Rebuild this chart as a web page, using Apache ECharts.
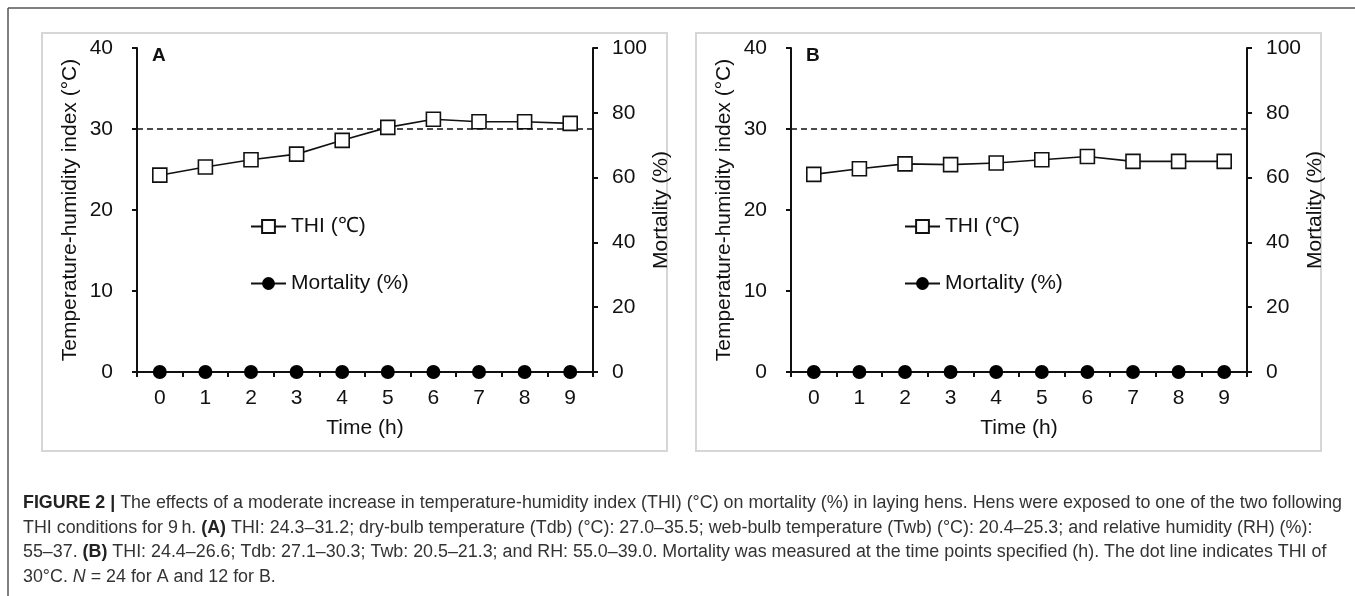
<!DOCTYPE html>
<html>
<head>
<meta charset="utf-8">
<script src="https://cdn.jsdelivr.net/npm/echarts@6/dist/echarts.min.js"></script>
<style>
html, body { margin: 0; padding: 0; background: #fff; }
#main { width: 1355px; height: 596px; }
</style>
</head>
<body>
<div id="main"></div>
<script>
// data
var hours = ['0', '1', '2', '3', '4', '5', '6', '7', '8', '9'];
var thiA = [24.3, 25.3, 26.2, 26.9, 28.6, 30.2, 31.2, 30.9, 30.9, 30.7];
var mortA = [0, 0, 0, 0, 0, 0, 0, 0, 0, 0];
var thiB = [24.4, 25.1, 25.7, 25.6, 25.8, 26.2, 26.6, 26.0, 26.0, 26.0];
var mortB = [0, 0, 0, 0, 0, 0, 0, 0, 0, 0];
var thiTicks = [0, 10, 20, 30, 40];
var mortTicks = [0, 20, 40, 60, 80, 100];
var thiLimit = 30;

var FONT = '"Liberation Sans", Arial, sans-serif';
var INK = '#111';

var captionLines = [
    '{b|FIGURE 2 |} The effects of a moderate increase in temperature-humidity index (THI) (°C) on mortality (%) in laying hens. Hens were exposed to one of the two following',
    'THI conditions for 9\u2009h. {b|(A)} THI: 24.3–31.2; dry-bulb temperature (Tdb) (°C): 27.0–35.5; web-bulb temperature (Twb) (°C): 20.4–25.3; and relative humidity (RH) (%):',
    '55–37. {b|(B)} THI: 24.4–26.6; Tdb: 27.1–30.3; Twb: 20.5–21.3; and RH: 55.0–39.0. Mortality was measured at the time points specified (h). The dot line indicates THI of',
    '30°C. {i|N} = 24 for A and 12 for B.'
];

// fit caption size so that the first line spans the width of the figure
var ctx = document.createElement('canvas').getContext('2d');
ctx.font = 'bold 100px ' + FONT;
var wBold = ctx.measureText('FIGURE 2 |').width;
ctx.font = '100px ' + FONT;
var wRest = ctx.measureText(' The effects of a moderate increase in temperature-humidity index (THI) (°C) on mortality (%) in laying hens. Hens were exposed to one of the two following').width;
var capSize = 100 * 1319 / (wBold + wRest);

var myChart = echarts.init(document.getElementById('main'));

var grids = [];
var xAxes = [];
var yAxes = [];
var series = [];
var legends = [];
var graphics = [];

// outer frame (only top and left edges fall inside the picture)
graphics.push({ type: 'line', shape: { x1: 8, y1: 8, x2: 1355, y2: 8 }, style: { stroke: '#555', lineWidth: 1.5 } });
graphics.push({ type: 'line', shape: { x1: 8, y1: 8, x2: 8, y2: 596 }, style: { stroke: '#555', lineWidth: 1.5 } });

function addPanel(i, boxLeft, letter, thi, mort) {
    var gLeft = boxLeft + 95;
    grids.push({ left: gLeft, top: 48, width: 456, height: 324, outerBoundsMode: 'none' });

    graphics.push({
        type: 'rect',
        shape: { x: boxLeft, y: 33, width: 625, height: 418 },
        style: { fill: 'none', stroke: '#d6d6d6', lineWidth: 2 },
        z: -1
    });
    graphics.push({
        type: 'text', x: gLeft + 15, y: 56,
        style: { text: letter, font: 'bold 19px ' + FONT, fill: INK, verticalAlign: 'middle' }
    });

    var axisCommon = {
        gridIndex: i,
        axisLine: { show: true, lineStyle: { color: INK, width: 2 } },
        axisTick: { show: true, length: 5, lineStyle: { color: INK, width: 2 } },
        splitLine: { show: false },
        nameTextStyle: { fontSize: 21, fontFamily: FONT, color: INK }
    };

    xAxes.push(Object.assign({}, axisCommon, {
        type: 'category',
        data: hours,
        boundaryGap: true,
        axisLabel: { fontSize: 21, fontFamily: FONT, color: INK, margin: 16 },
        name: 'Time (h)',
        nameLocation: 'middle',
        nameGap: 46
    }));

    yAxes.push(Object.assign({}, axisCommon, {
        type: 'value',
        position: 'left',
        min: thiTicks[0],
        max: thiTicks[thiTicks.length - 1],
        interval: thiTicks[1] - thiTicks[0],
        axisLabel: { fontSize: 21, fontFamily: FONT, color: INK, margin: 24 },
        name: 'Temperature-humidity index (°C)',
        nameLocation: 'middle',
        nameRotate: 90,
        nameGap: 56
    }));
    yAxes.push(Object.assign({}, axisCommon, {
        type: 'value',
        position: 'right',
        min: mortTicks[0],
        max: mortTicks[mortTicks.length - 1],
        interval: mortTicks[1] - mortTicks[0],
        axisLabel: { fontSize: 21, fontFamily: FONT, color: INK, margin: 19 },
        name: 'Mortality (%)',
        nameLocation: 'middle',
        nameRotate: 90,
        nameGap: 46
    }));

    series.push({
        name: 'THI (℃)',
        type: 'line',
        xAxisIndex: i,
        yAxisIndex: i * 2,
        data: thi,
        symbol: 'rect',
        symbolSize: 14,
        itemStyle: { color: '#fff', borderColor: INK, borderWidth: 1.6 },
        lineStyle: { color: INK, width: 1.6 },
        z: 3,
        markLine: {
            silent: true,
            z: 1,
            symbol: ['none', 'none'],
            label: { show: false },
            lineStyle: { color: INK, width: 1.6, type: [6, 4] },
            data: [{ yAxis: thiLimit }]
        }
    });
    series.push({
        name: 'Mortality (%)',
        type: 'line',
        xAxisIndex: i,
        yAxisIndex: i * 2 + 1,
        data: mort,
        symbol: 'circle',
        symbolSize: 14,
        itemStyle: { color: '#000' },
        lineStyle: { color: INK, width: 1.6 },
        z: 4
    });

    legends.push({
        left: gLeft + 108,
        top: 211,
        orient: 'vertical',
        itemWidth: 35,
        itemHeight: 16,
        itemGap: 36,
        selectedMode: false,
        textStyle: { fontSize: 21, fontFamily: FONT, color: INK },
        data: ['THI (℃)', 'Mortality (%)']
    });
}

addPanel(0, 42, 'A', thiA, mortA);
addPanel(1, 696, 'B', thiB, mortB);

// caption
captionLines.forEach(function (line, k) {
    graphics.push({
        type: 'text',
        x: 23,
        y: 503 + k * 24.7,
        style: {
            text: line,
            font: capSize.toFixed(2) + 'px ' + FONT,
            fill: '#333',
            verticalAlign: 'middle',
            rich: {
                b: { fontWeight: 'bold', fontSize: capSize, fontFamily: FONT, fill: '#222' },
                i: { fontStyle: 'italic', fontSize: capSize, fontFamily: FONT, fill: '#333' }
            }
        }
    });
});

var option = {
    animation: false,
    grid: grids,
    xAxis: xAxes,
    yAxis: yAxes,
    legend: legends,
    series: series,
    graphic: graphics
};

option && myChart.setOption(option);
</script>
</body>
</html>
